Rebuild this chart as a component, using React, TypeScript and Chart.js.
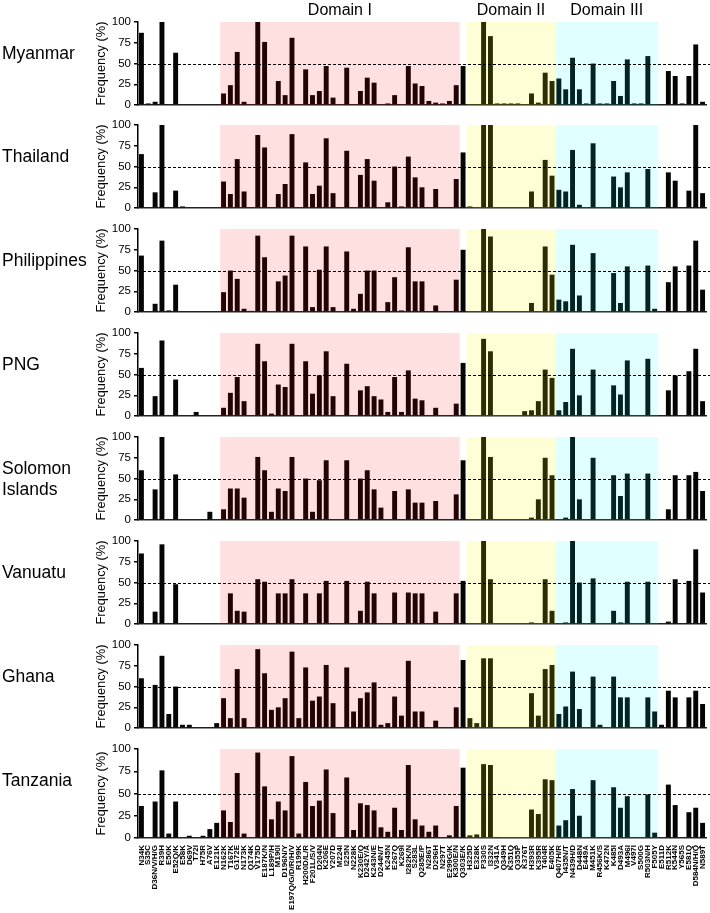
import React, { useEffect, useRef } from 'react';
import { Chart, registerables } from 'chart.js';

Chart.register(...registerables);

const categories = [
  'N34K', 'S35C', 'D36N/V/H/G', 'R39H', 'E50K', 'E52Q/K', 'E58K', 'D69V', 'T72I', 'H75R',
  'A76V', 'E121K', 'N162K', 'T167K', 'G172E', 'N173K', 'Q174K', 'V175D', 'E187K/N', 'L189P/H',
  'M190I', 'D196N/Y', 'E197Q/G/D/R/H/V', 'R199K', 'H200D/L/R', 'F201L/S/V', 'D204N', 'K206E', 'Y207D', 'M224I',
  'I225N', 'N228K', 'K230E/Q', 'D242Y/A', 'K243N/E', 'D244N/T', 'K245N', 'E267Q', 'K269I', 'I282K/N',
  'S283L', 'Q285E/P', 'N286T', 'D296H', 'N297T', 'E299G/K', 'K300E/N', 'Q303E/K', 'H325D', 'E328K',
  'P330S', 'I332N', 'V341A', 'Q349H', 'K351Q', 'Q355P', 'K376T', 'H393R', 'K395R', 'T404R',
  'E405K', 'Q407H/R', 'I435N/T', 'N439H/D', 'D448N', 'E449A', 'M451K', 'R456K/S', 'K472N', 'K485I',
  'D493A', 'M496I', 'V497I', 'S500G', 'R503N/H', 'F505Y', 'E511D', 'R512K', 'K544N', 'Y565S',
  'E581Q', 'D584N/H/Q', 'N589T',
];

const countries = ['Myanmar', 'Thailand', 'Philippines', 'PNG', 'Solomon\nIslands', 'Vanuatu', 'Ghana', 'Tanzania'];

const myanmar = [
  87, 2, 4, 100, 1, 63, 0.8, 0.8, 0.8, 0.8,
  0.8, 0.8, 14, 24, 64, 4, 0, 100, 76, 0,
  29, 12, 81, 0, 43, 12, 17, 47, 9, 0,
  45, 0, 17, 33, 27, 0, 2, 12, 0, 47,
  26, 23, 5, 3, 2, 5, 24, 47, 1, 0,
  100, 83, 2, 2, 2, 2, 0, 14, 3, 39,
  29, 32, 19, 57, 19, 2, 50, 2, 2, 29,
  11, 55, 2, 2, 59, 0, 0, 41, 35, 2,
  35, 73, 4,
];
const thailand = [
  65, 0, 19, 100, 0, 21, 2, 0, 0, 0,
  0, 0, 32, 17, 59, 20, 0, 88, 73, 0,
  17, 29, 89, 0, 55, 17, 27, 84, 18, 0,
  69, 0, 40, 59, 33, 0, 7, 50, 2, 62,
  37, 25, 0, 23, 0, 0, 35, 67, 2, 0,
  100, 100, 0, 0, 0, 0, 0, 20, 0, 58,
  39, 22, 20, 70, 4, 0, 78, 0, 0, 38,
  25, 43, 0, 0, 47, 0, 0, 43, 33, 0,
  21, 100, 18,
];
const philippines = [
  68, 0, 10, 86, 2, 33, 0, 0, 0, 0,
  0, 0, 24, 50, 40, 4, 1.5, 92, 66, 0,
  37, 44, 92, 0, 79, 6, 51, 79, 6, 0,
  73, 4, 22, 50, 50, 0, 12, 42, 2, 78,
  37, 37, 0, 8, 0, 0, 39, 75, 0, 0,
  100, 91, 0, 0, 0, 0, 0, 11, 0, 79,
  45, 15, 13, 81, 20, 0, 71, 0, 0, 47,
  11, 55, 0, 0, 56, 4, 0, 36, 55, 0,
  56, 86, 27,
];
const png = [
  58, 0, 24, 91, 0, 44, 0, 0, 5, 0,
  0, 0, 10, 28, 47, 18, 0, 87, 66, 3,
  38, 35, 87, 0, 66, 27, 49, 78, 24, 1,
  63, 0, 31, 36, 24, 20, 5, 47, 5, 55,
  21, 19, 0, 10, 0, 0, 15, 64, 0, 0,
  93, 78, 0, 0, 0, 0, 6, 7, 18, 56,
  46, 7, 17, 81, 25, 0, 56, 0, 0, 37,
  26, 67, 0, 0, 69, 0, 1, 31, 49, 0,
  54, 81, 18,
];
const solomonIslands = [
  60, 0, 37, 100, 0, 55, 0, 0, 0, 0,
  10, 0, 13, 38, 38, 27, 0, 76, 60, 10,
  38, 35, 76, 0, 50, 10, 48, 72, 0, 0,
  72, 0, 50, 60, 37, 15, 0, 35, 0, 37,
  21, 21, 0, 23, 0, 0, 31, 72, 0, 0,
  100, 76, 0, 0, 0, 0, 0, 3, 25, 75,
  54, 0, 3, 100, 25, 0, 75, 0, 0, 54,
  29, 56, 0, 0, 56, 0, 0, 13, 54, 0,
  54, 58, 35,
];
const vanuatu = [
  85, 0, 15, 96, 0, 48, 0.8, 0.8, 0.8, 0.8,
  0.8, 0.8, 0, 37, 16, 15, 0, 54, 51, 0,
  37, 37, 54, 0, 37, 0, 37, 52, 0, 0,
  52, 0, 16, 51, 37, 0, 0, 38, 0, 38,
  37, 37, 0, 15, 0, 0, 37, 52, 0, 0,
  100, 54, 0, 0, 0, 0, 0, 2, 0, 54,
  16, 0, 2, 100, 50, 0, 55, 0, 0, 16,
  2, 51, 0, 0, 51, 0, 0, 3, 54, 0,
  52, 90, 38,
];
const ghana = [
  60, 0, 52, 87, 17, 50, 4, 4, 0.8, 0.8,
  0.8, 6, 36, 12, 71, 12, 0, 95, 66, 22,
  25, 36, 92, 12, 73, 33, 38, 76, 30, 0,
  73, 20, 36, 43, 55, 4, 6, 38, 15, 81,
  20, 20, 0, 9, 0, 0, 25, 82, 12, 6,
  84, 84, 0, 0, 0, 0, 0, 42, 15, 71,
  76, 17, 26, 68, 23, 0, 62, 4, 0, 62,
  37, 37, 0, 0, 37, 20, 4, 45, 37, 0,
  37, 45, 29,
];
const tanzania = [
  36, 0, 41, 76, 5, 41, 0, 2.5, 0, 2.5,
  10, 17, 31, 18, 73, 5, 0, 96, 58, 21,
  41, 31, 92, 5, 63, 36, 42, 77, 28, 0.5,
  68, 9, 39, 37, 31, 12, 7, 34, 9, 82,
  21, 14, 7, 14, 1, 3, 36, 79, 3, 4,
  83, 82, 0.5, 0, 0, 0, 0, 32, 27, 66,
  65, 14, 20, 55, 25, 0, 65, 0, 0, 57,
  34, 47, 0, 0, 49, 6, 0, 60, 37, 0,
  29, 34, 17,
];

const seriesList = [myanmar, thailand, philippines, png, solomonIslands, vanuatu, ghana, tanzania];

const yTicks = [0, 25, 50, 75, 100];
const domainNames = ['Domain I', 'Domain II', 'Domain III'];
const domainStart = [12, 48, 61];
const domainEnd = [46, 60, 75];
const referenceLine = 50;

const FONT = "'Liberation Sans', Arial, Helvetica, sans-serif";
const TINTS = ['rgba(255,0,0,0.122)', 'rgba(255,255,0,0.16)', 'rgba(0,255,255,0.122)'];
const PANEL_TOPS = [22, 125, 229, 333, 437, 541, 645, 749];
const PLOT_H = 89;
const XLABEL_H = 74;

function Panel({ values, k, last }: { values: number[]; k: number; last: boolean }) {
  const ref = useRef<HTMLCanvasElement | null>(null);
  const padTop = k === 0 ? PANEL_TOPS[0] : 10;
  const canvasTop = PANEL_TOPS[k] - padTop;
  const height = padTop + PLOT_H + (last ? XLABEL_H : 4);

  useEffect(() => {
    if (!ref.current) return;
    const shade = {
      id: 'shade',
      afterDatasetsDraw(chart: any) {
        const { ctx, chartArea, scales } = chart;
        const x = scales.x;
        const y = scales.y;
        const w = (chartArea.right - chartArea.left) / categories.length;
        const top = y.getPixelForValue(100);
        const bot = y.getPixelForValue(0);
        ctx.save();
        domainStart.forEach((s, j) => {
          const x1 = x.getPixelForValue(s) - w / 2;
          const x2 = x.getPixelForValue(domainEnd[j]) + w / 2;
          ctx.fillStyle = TINTS[j];
          ctx.fillRect(x1, top, x2 - x1, bot - top);
          if (k === 0) {
            ctx.fillStyle = '#000';
            ctx.font = `16px ${FONT}`;
            ctx.textAlign = 'center';
            ctx.textBaseline = 'middle';
            ctx.fillText(domainNames[j], (x1 + x2) / 2, top - 11);
          }
        });
        const y50 = Math.round(y.getPixelForValue(referenceLine)) + 0.5;
        ctx.strokeStyle = '#000';
        ctx.lineWidth = 1;
        ctx.setLineDash([3, 2]);
        ctx.beginPath();
        ctx.moveTo(chartArea.left, y50);
        ctx.lineTo(chart.width, y50);
        ctx.stroke();
        ctx.restore();
      },
    };

    const chart = new Chart(ref.current, {
      type: 'bar',
      data: {
        labels: categories,
        datasets: [
          {
            data: values,
            backgroundColor: '#050505',
            borderWidth: 0,
            barPercentage: 0.72,
            categoryPercentage: 1,
          },
        ],
      },
      options: {
        animation: false,
        responsive: false,
        maintainAspectRatio: false,
        layout: { padding: { top: padTop, bottom: last ? 0 : 4, left: 90, right: 4 } },
        plugins: { legend: { display: false }, tooltip: { enabled: false } },
        scales: {
          x: {
            grid: { display: false, drawTicks: false },
            border: { display: true, color: '#222', width: 1.5 },
            ticks: {
              display: last,
              autoSkip: false,
              maxRotation: 90,
              minRotation: 90,
              padding: 7,
              font: { size: 8, family: FONT, weight: 'bold' },
              color: '#000',
            },
            afterFit: (s: any) => {
              s.height = last ? XLABEL_H : 0;
              s.paddingLeft = 0;
              s.paddingRight = 0;
            },
          },
          y: {
            min: 0,
            max: 100,
            afterBuildTicks: (s: any) => {
              s.ticks = yTicks.map((v) => ({ value: v }));
            },
            ticks: { font: { size: 11.5, family: FONT }, color: '#000', padding: 3 },
            grid: { drawOnChartArea: false, drawTicks: true, tickLength: 4, color: '#000', lineWidth: 1.5 },
            border: { color: '#000', width: 1.5 },
            title: {
              display: true,
              text: 'Frequency (%)',
              font: { size: 12.8, family: FONT },
              color: '#000',
              padding: { top: 4, bottom: 0 },
            },
            afterFit: (s: any) => {
              s.width = 48;
            },
          },
        },
      },
      plugins: [shade],
    } as any);
    return () => chart.destroy();
  }, [values, k, last]);

  return (
    <canvas
      ref={ref}
      width={710}
      height={height}
      style={{ position: 'absolute', left: 0, top: canvasTop, width: 710, height, display: 'block' }}
    />
  );
}

export default function App() {
  return (
    <div style={{ position: 'absolute', left: 0, top: 0, width: 710, height: 913, background: '#fff', overflow: 'hidden' }}>
      {seriesList.map((vals, k) => (
        <Panel key={k} values={vals} k={k} last={k === seriesList.length - 1} />
      ))}
      {countries.map((name, k) => {
        const lines = name.split('\n');
        const lh = 21;
        const centerY = PANEL_TOPS[k] + (lines.length > 1 ? 42 : 31);
        return (
          <div
            key={name}
            style={{
              position: 'absolute',
              left: 2,
              top: centerY - (lines.length * lh) / 2,
              fontFamily: FONT,
              fontSize: 17.5,
              lineHeight: `${lh}px`,
              color: '#000',
              whiteSpace: 'pre',
            }}
          >
            {name}
          </div>
        );
      })}
    </div>
  );
}
